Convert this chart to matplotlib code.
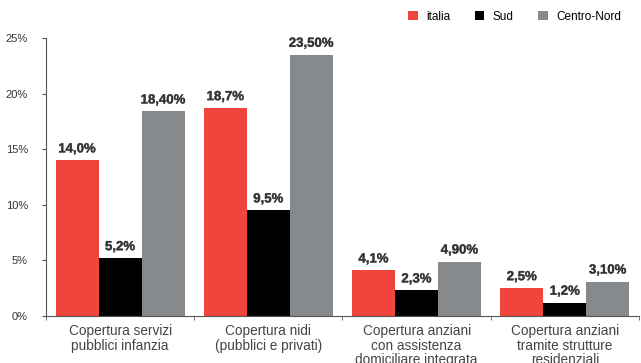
import numpy as np
import matplotlib.pyplot as plt
import matplotlib.patheffects as pe

plt.rcParams['font.family'] = ['Liberation Sans', 'DejaVu Sans']

categorie = ['Copertura servizi\npubblici infanzia',
             'Copertura nidi\n(pubblici e privati)',
             'Copertura anziani\ncon assistenza\ndomiciliare integrata',
             'Copertura anziani\ntramite strutture\nresidenziali']
italia = [14.0, 18.7, 4.1, 2.5]
sud = [5.2, 9.5, 2.3, 1.2]
centro_nord = [18.40, 23.50, 4.90, 3.10]

serie = [('italia', italia, '#ef453c', 1),
         ('Sud', sud, '#000000', 1),
         ('Centro-Nord', centro_nord, '#878a8d', 2)]

fig = plt.figure(figsize=(6.41, 3.63), dpi=100)
ax = fig.add_axes([0.0718, 0.1295, 0.925, 0.7655])

x = np.arange(len(categorie))
w = 0.29
for i, (nome, vals, col, dec) in enumerate(serie):
    pos = x + (i - 1) * w
    ax.bar(pos, vals, w, color=col, label=nome)
    for p, v in zip(pos, vals):
        testo = f'{v:.{dec}f}%'.replace('.', ',')
        ax.text(p, v + 0.45, testo, ha='center', va='bottom', fontsize=9.5,
                fontweight='bold', color='#333333',
                path_effects=[pe.withStroke(linewidth=0.4, foreground='#777777')])

ax.set_xlim(-0.5, len(categorie) - 0.5)
ax.set_ylim(0, 25)
ax.set_yticks(range(0, 26, 5))
ax.set_yticklabels([f'{t}%' for t in range(0, 26, 5)], fontsize=8, color='#333333')
ax.set_xticks(x)
ax.set_xticklabels(categorie, fontsize=9.8, color='#444444', linespacing=1.05)
ax.tick_params(axis='x', length=0, pad=6)
ax.set_xticks(np.arange(len(categorie) + 1) - 0.5, minor=True)
ax.tick_params(axis='x', which='minor', length=3, color='#555555')
ax.tick_params(axis='y', length=3, color='#555555', pad=10)

for s in ['top', 'right']:
    ax.spines[s].set_visible(False)
ax.spines['left'].set_color('#555555')
ax.spines['bottom'].set_color('#555555')

fig.legend(loc='upper right', bbox_to_anchor=(0.985, 1.0), ncol=3, frameon=False,
           fontsize=8.5, handlelength=0.8, handleheight=0.8, columnspacing=2.1, handletextpad=0.7)

fig.savefig('out.png', dpi=100)
